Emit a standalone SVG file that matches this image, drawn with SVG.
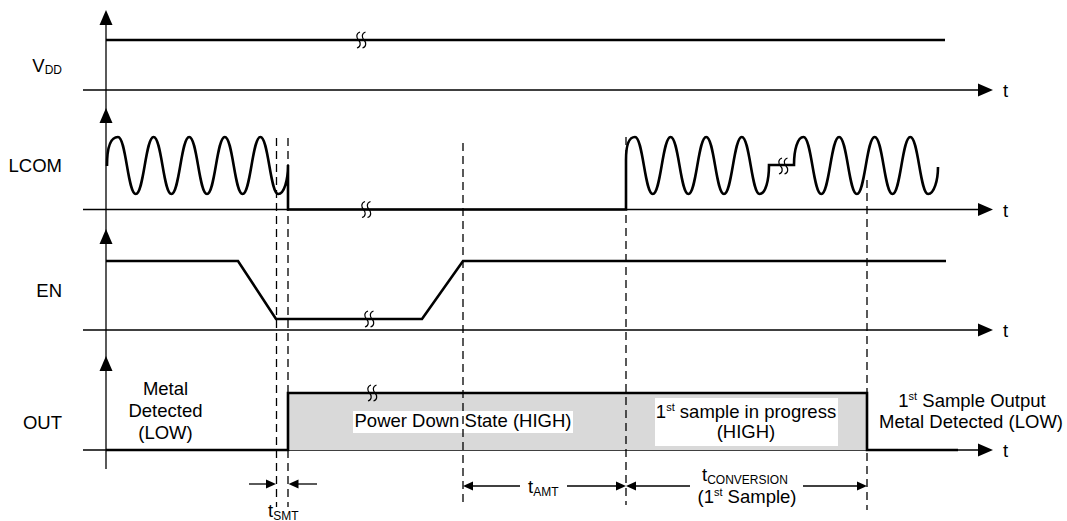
<svg xmlns="http://www.w3.org/2000/svg" xmlns:xlink="http://www.w3.org/1999/xlink" width="1067" height="521" viewBox="0 0 1067 521">
<style>
.ax{stroke:#000;stroke-width:1.3;fill:none}
.sig{stroke:#000;stroke-width:2.6;fill:none;stroke-linejoin:miter}
.dash{stroke:#000;stroke-width:1.3;fill:none;stroke-dasharray:8 5}
.brk{stroke:#000;stroke-width:1.2;fill:none}
.head{fill:#000;stroke:none}
text{font-family:"Liberation Sans",Arial,sans-serif;font-size:18.5px;fill:#000}
.sub{font-size:12px}
.sup{font-size:11px}
</style>
<defs>
<path id="ah" class="head" d="M0,0 L-15,-6.5 L-15,6.5Z"/>
<path id="dh" class="head" d="M0,0 L-10,-4.5 L-10,4.5Z"/>
<g id="brkm">
<path class="brk" d="M-1,-8 C-5.5,-6.5 -4.5,-2 -2.5,0 C-0.5,2 0.5,6.5 -4,8"/>
<path class="brk" d="M4.5,-8 C0,-6.5 1,-2 3,0 C5,2 6,6.5 1.5,8"/>
</g>
</defs>

<g id="axes">
<line class="ax" x1="106" y1="20" x2="106" y2="469"/>
<use xlink:href="#ah" transform="translate(106,10) rotate(-90)"/>
<use xlink:href="#ah" transform="translate(106,108) rotate(-90)"/>
<use xlink:href="#ah" transform="translate(106,229) rotate(-90)"/>
<use xlink:href="#ah" transform="translate(106,356) rotate(-90)"/>
<line class="ax" x1="83" y1="90" x2="980" y2="90"/>
<use xlink:href="#ah" transform="translate(993,90)"/>
<line class="ax" x1="83" y1="209.5" x2="980" y2="209.5"/>
<use xlink:href="#ah" transform="translate(993,209.5)"/>
<line class="ax" x1="83" y1="330" x2="980" y2="330"/>
<use xlink:href="#ah" transform="translate(993,330)"/>
<line class="ax" x1="83" y1="450" x2="980" y2="450"/>
<use xlink:href="#ah" transform="translate(993,450)"/>
<text x="1003" y="97">t</text>
<text x="1003" y="217">t</text>
<text x="1003" y="337">t</text>
<text x="1003" y="457">t</text>
</g>

<g id="vdd">
<text x="62" y="72" text-anchor="end">V<tspan class="sub" dy="2">DD</tspan></text>
<line class="sig" x1="106" y1="40" x2="945" y2="40"/>
<use xlink:href="#brkm" transform="translate(361,40)"/>
</g>

<g id="lcom">
<text x="62" y="172" text-anchor="end">LCOM</text>
<path class="sig" d="M107,166 C107,149 110,137 118,137
c8,0 9.8,57 17.8,57 c8,0 9.8,-57 17.8,-57
c8,0 9.8,57 17.8,57 c8,0 9.8,-57 17.8,-57
c8,0 9.8,57 17.8,57 c8,0 9.8,-57 17.8,-57
c8,0 9.8,57 17.8,57 c8,0 9.8,-57 17.8,-57
c8,0 9.8,57 17.8,57
c6,0 9.8,-14 9.8,-29 V209.5 H626 V160
c0,-15 3,-23 9,-23
c8,0 9.8,57 17.8,57 c8,0 9.8,-57 17.8,-57
c8,0 9.8,57 17.8,57 c8,0 9.8,-57 17.8,-57
c8,0 9.8,57 17.8,57 c8,0 9.8,-57 17.8,-57
c8,0 9.8,57 17.8,57
c6,0 9.4,-14 9.4,-29 H794
c0,-15 3.5,-28 9.5,-28
c8,0 9.8,57 17.8,57 c8,0 9.8,-57 17.8,-57
c8,0 9.8,57 17.8,57 c8,0 9.8,-57 17.8,-57
c8,0 9.8,57 17.8,57 c8,0 9.8,-57 17.8,-57
c8,0 9.8,57 17.8,57
c6,0 9.9,-14 9.9,-27"/>
<use xlink:href="#brkm" transform="translate(366,209.5)"/>
<use xlink:href="#brkm" transform="translate(783,166)"/>
</g>

<g id="en">
<text x="62" y="297" text-anchor="end">EN</text>
<path class="sig" d="M106,261 H238 L276,319 H422 L463,261 H946"/>
<use xlink:href="#brkm" transform="translate(369,319)"/>
</g>

<g id="out">
<text x="62" y="429" text-anchor="end">OUT</text>
<rect x="288" y="393" width="579" height="57" fill="#d9d9d9"/>
<path class="sig" d="M106,450 H288 V393 H867 V450 H958"/>
<use xlink:href="#brkm" transform="translate(372,393)"/>
<rect x="353" y="411" width="220" height="22" fill="#fff"/>
<text x="463" y="427" text-anchor="middle">Power Down State (HIGH)</text>
<rect x="655" y="398" width="183" height="48" fill="#fff"/>
<text x="746" y="418" text-anchor="middle">1<tspan class="sup" dy="-7">st</tspan><tspan dy="7"> sample in progress</tspan></text>
<text x="746" y="438" text-anchor="middle">(HIGH)</text>
<text x="165.5" y="394.5" text-anchor="middle">Metal</text>
<text x="165.5" y="416.5" text-anchor="middle">Detected</text>
<text x="165.5" y="438.5" text-anchor="middle">(LOW)</text>
<text x="972" y="407" text-anchor="middle">1<tspan class="sup" dy="-7">st</tspan><tspan dy="7"> Sample Output</tspan></text>
<text x="971" y="428" text-anchor="middle">Metal Detected (LOW)</text>
</g>

<g id="connectors">
<line class="dash" x1="276.5" y1="138" x2="276.5" y2="507"/>
<line class="dash" x1="288" y1="138" x2="288" y2="507"/>
<line class="dash" x1="463" y1="143" x2="463" y2="503"/>
<line class="dash" x1="626" y1="137" x2="626" y2="505"/>
<line class="dash" x1="867" y1="180" x2="867" y2="510"/>

<line class="ax" x1="249" y1="484" x2="268" y2="484"/>
<use xlink:href="#dh" transform="translate(276,484)"/>
<line class="ax" x1="296" y1="484" x2="317" y2="484"/>
<use xlink:href="#dh" transform="translate(288.5,484) rotate(180)"/>
<text x="268" y="517">t<tspan class="sub" dy="3">SMT</tspan></text>

<line class="ax" x1="470" y1="486" x2="520" y2="486"/>
<use xlink:href="#dh" transform="translate(463,486) rotate(180)"/>
<line class="ax" x1="567" y1="486" x2="618" y2="486"/>
<use xlink:href="#dh" transform="translate(626,486)"/>
<text x="528" y="493">t<tspan class="sub" dy="3">AMT</tspan></text>

<line class="ax" x1="634" y1="486" x2="690" y2="486"/>
<use xlink:href="#dh" transform="translate(626,486) rotate(180)"/>
<line class="ax" x1="803" y1="486" x2="859" y2="486"/>
<use xlink:href="#dh" transform="translate(867,486)"/>
<text x="702" y="481">t<tspan class="sub" dy="3">CONVERSION</tspan></text>
<text x="747" y="503" text-anchor="middle">(1<tspan class="sup" dy="-7">st</tspan><tspan dy="7"> Sample)</tspan></text>
</g>
</svg>
